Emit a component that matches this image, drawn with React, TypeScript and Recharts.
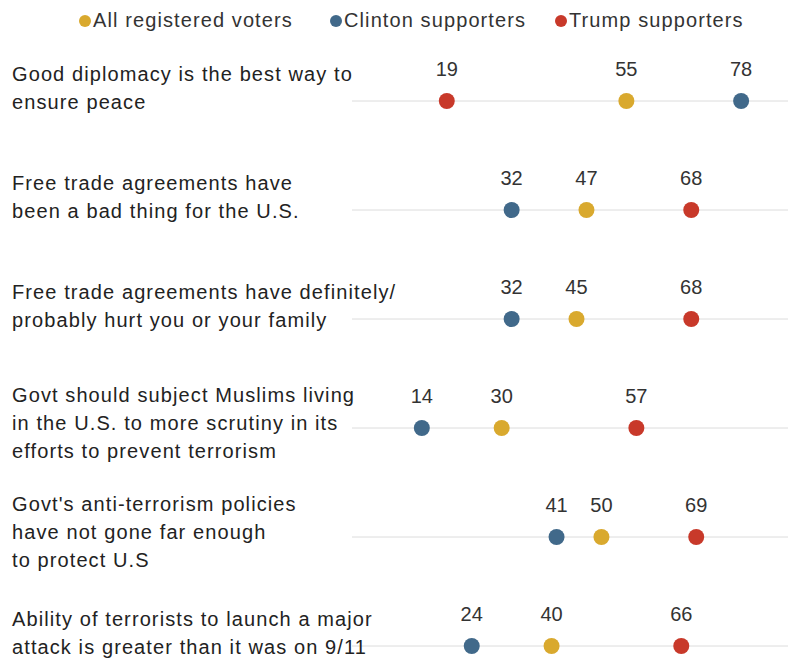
import React from "react";
import {
  ScatterChart,
  Scatter,
  XAxis,
  YAxis,
  CartesianGrid,
} from "recharts";

const topics = [
  ["Good diplomacy is the best way to", "ensure peace"],
  ["Free trade agreements have", "been a bad thing for the U.S."],
  ["Free trade agreements have definitely/", "probably  hurt you or your family"],
  [
    "Govt should subject Muslims living",
    "in the U.S. to more scrutiny in its",
    "efforts to prevent terrorism",
  ],
  ["Govt's anti-terrorism policies", "have not gone far enough", "to protect U.S"],
  ["Ability of terrorists to launch a  major", "attack is greater than it was on 9/11"],
];

const allVoters = [55, 47, 45, 30, 50, 40];
const clinton = [78, 32, 32, 14, 41, 24];
const trump = [19, 68, 68, 57, 69, 66];

const seriesNames = ["All registered voters", "Clinton supporters", "Trump supporters"];
const seriesColors = ["#D9A92E", "#41698A", "#C8392A"];

const FONT = "'Liberation Sans', Arial, sans-serif";

const toRows = (vals: number[]) => vals.map((v, i) => ({ row: i, value: v }));

const Dot = (color: string) => (props: any) => {
  const { cx, cy, payload } = props;
  return (
    <g>
      <circle cx={cx} cy={cy} r={8} fill={color} />
      <text
        x={cx}
        y={cy - 25}
        textAnchor="middle"
        fontSize={20}
        fill="#333"
        fontFamily={FONT}
      >
        {payload.value}
      </text>
    </g>
  );
};

const TopicTick = (props: any) => {
  const { y, payload } = props;
  const lines = topics[payload.value] || [];
  const start = lines.length === 3 ? -33 : -27;
  return (
    <g>
      {lines.map((ln, i) => (
        <text
          key={i}
          x={4}
          y={y + start + i * 28}
          dy={7}
          fontSize={20}
          letterSpacing={1.1}
          fill="#222"
          fontFamily={FONT}
        >
          {ln}
        </text>
      ))}
    </g>
  );
};

export default function App() {
  const series = [allVoters, clinton, trump];
  const legendLeft = [71, 322, 547];

  return (
    <div style={{ position: "relative", width: 788, height: 652, fontFamily: FONT }}>
      {seriesNames.map((name, i) => (
        <div
          key={name}
          style={{
            position: "absolute",
            left: legendLeft[i],
            top: 1,
            display: "flex",
            alignItems: "center",
            fontSize: 20,
            letterSpacing: 1.1,
            color: "#333",
          }}
        >
          <span
            style={{
              width: 12,
              height: 12,
              borderRadius: 6,
              background: seriesColors[i],
              display: "inline-block",
              marginRight: 2,
            }}
          />
          {name}
        </div>
      ))}
      <ScatterChart
        width={788}
        height={652}
        margin={{ top: 93, right: 0, bottom: 14, left: 0 }}
      >
        <CartesianGrid vertical={false} stroke="#dcdcdc" />
        <XAxis type="number" dataKey="value" domain={[0, 89]} hide />
        <YAxis
          type="number"
          dataKey="row"
          domain={[0, 5]}
          ticks={[0, 1, 2, 3, 4, 5]}
          reversed
          width={344}
          axisLine={false}
          tickLine={false}
          tick={<TopicTick />}
        />
        {series.map((vals, i) => (
          <Scatter
            key={seriesNames[i]}
            name={seriesNames[i]}
            data={toRows(vals)}
            fill={seriesColors[i]}
            shape={Dot(seriesColors[i])}
            isAnimationActive={false}
          />
        ))}
      </ScatterChart>
    </div>
  );
}
